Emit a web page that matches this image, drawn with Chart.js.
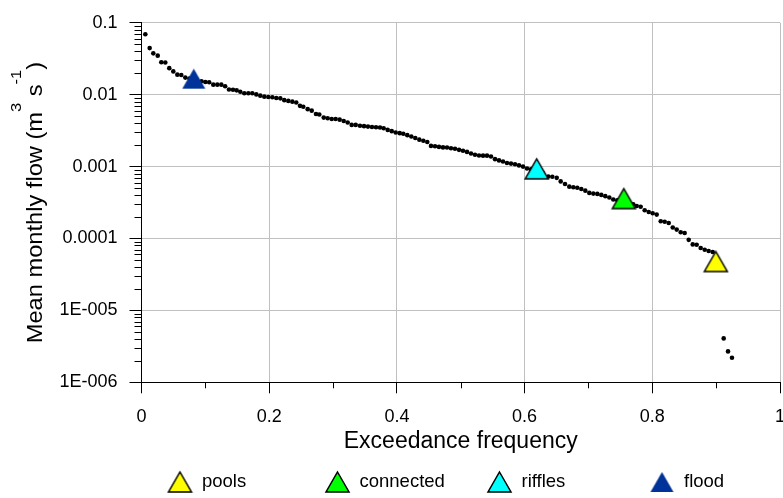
<!DOCTYPE html>
<html>
<head>
<meta charset="utf-8">
<script src="https://cdn.jsdelivr.net/npm/chart.js@4/dist/chart.umd.min.js"></script>
<style>
  body { margin: 0; background: #fff; }
  #chart { display: block; }
</style>
</head>
<body>
<canvas id="chart" width="783" height="498"></canvas>
<script>
// flow duration curve - monthly flows
const exceedance = [
  0.006, 0.0128, 0.0185, 0.0254, 0.031, 0.0373, 0.0435, 0.0498, 0.0561, 0.0623,
  0.0686, 0.075, 0.081, 0.087, 0.094, 0.100, 0.106, 0.1124, 0.1187, 0.125,
  0.131, 0.137, 0.1433, 0.149, 0.1547, 0.161, 0.1673, 0.1735, 0.1798, 0.186,
  0.1923, 0.1986, 0.2049, 0.2111, 0.2174, 0.2236, 0.2299, 0.2362, 0.2424, 0.2482,
  0.2534, 0.2603, 0.2666, 0.2733, 0.2785, 0.2854, 0.2916, 0.2979, 0.3041, 0.3104,
  0.3167, 0.3229, 0.3292, 0.3355, 0.3422, 0.3485, 0.3547, 0.361, 0.3673, 0.3735,
  0.3793, 0.3856, 0.3919, 0.3981, 0.4044, 0.41, 0.4163, 0.4226, 0.4288, 0.4351,
  0.4414, 0.4476, 0.4534, 0.4597, 0.4659, 0.4722, 0.4785, 0.4847, 0.491, 0.4973,
  0.5035, 0.5098, 0.5161, 0.5223, 0.5286, 0.5349, 0.5411, 0.5474, 0.5537, 0.5599,
  0.5662, 0.5724, 0.5787, 0.585, 0.5912, 0.5975, 0.6038, 0.610, 0.6163, 0.6225,
  0.6288, 0.6371, 0.6434, 0.6503, 0.6565, 0.6633, 0.670, 0.6763, 0.6825, 0.6888,
  0.6951, 0.7013, 0.7076, 0.7139, 0.7201, 0.7264, 0.7327, 0.7389, 0.7452, 0.7515,
  0.7577, 0.764, 0.7702, 0.7756, 0.7818, 0.7881, 0.7944, 0.8006, 0.8069, 0.8132,
  0.8194, 0.8257, 0.832, 0.8382, 0.8445, 0.8507, 0.857, 0.8633, 0.8695, 0.8758,
  0.8821, 0.8883, 0.8946, 0.9118, 0.9186, 0.9248
];
const flow = [
  0.0692, 0.0445, 0.0376, 0.0349, 0.0283, 0.028, 0.0234, 0.0211, 0.019, 0.0188,
  0.0173, 0.0168, 0.0163, 0.0158, 0.0154, 0.0150, 0.0149, 0.0138, 0.0138, 0.0138,
  0.0131, 0.0118, 0.0117, 0.0115, 0.0110, 0.0105, 0.0105, 0.0105, 0.0101, 0.0097,
  0.0094, 0.0093, 0.0092, 0.0090, 0.0089, 0.0084, 0.0082, 0.0080, 0.0078, 0.0070,
  0.0068, 0.0063, 0.0060, 0.0054, 0.0053, 0.0048, 0.0047, 0.0046, 0.0046, 0.0045,
  0.0043, 0.0041, 0.0038, 0.0038, 0.0037, 0.00365, 0.0036, 0.00356, 0.00353, 0.00349,
  0.00342, 0.00324, 0.00311, 0.00298, 0.00292, 0.00286, 0.00274, 0.00262, 0.0025, 0.00237,
  0.00229, 0.0022, 0.00194, 0.00192, 0.00188, 0.00185, 0.00184, 0.0018, 0.00177, 0.00171,
  0.00166, 0.0016, 0.00152, 0.00146, 0.00143, 0.00142, 0.00142, 0.00138, 0.00127, 0.00122,
  0.00118, 0.00112, 0.0011, 0.00108, 0.00104, 0.001, 0.00094, 0.00092, 0.00089, 0.00086,
  0.00081, 0.00073, 0.000721, 0.000698, 0.000623, 0.000573, 0.000526, 0.000515, 0.000509, 0.000489,
  0.000463, 0.000431, 0.000421, 0.000417, 0.000404, 0.000388, 0.000371, 0.000349, 0.00034, 0.00033,
  0.00032, 0.00031, 0.0003, 0.000283, 0.000277, 0.000247, 0.000234, 0.000224, 0.000215, 0.000174,
  0.000171, 0.000164, 0.000142, 0.000133, 0.000122, 0.000119, 0.0000957, 0.0000828, 0.0000817, 0.0000737,
  0.0000698, 0.000067, 0.0000649, 0.00000408, 0.00000269, 0.0000022
];

// habitat classes (triangles)
const classNames = ['pools', 'connected', 'riffles', 'flood'];
const classExceedance = [0.8995, 0.7554, 0.619, 0.0819];
const classFlow = [0.0000478, 0.000359, 0.00093, 0.0167];
const classColors = ['#ffff00', '#00ff00', '#00ffff', '#003399'];
const classOutline = ['#000', '#000', '#000', null];

// axis ticks
const xTickLabels = ['0', '0.2', '0.4', '0.6', '0.8', '1'];
const yTickValues = [1e-6, 1e-5, 1e-4, 1e-3, 1e-2, 1e-1];
const yTickLabels = ['1E-006', '1E-005', '0.0001', '0.001', '0.01', '0.1'];

Chart.defaults.font.family = '"Liberation Sans", Arial, sans-serif';
Chart.defaults.color = '#000';

function makeTriangle(fill, stroke) {
    const w = 23, h = 20;
    const c = document.createElement('canvas');
    c.width = w + 4;
    c.height = h + 4;
    const g = c.getContext('2d');
    g.beginPath();
    g.moveTo(c.width / 2, 2);
    g.lineTo(w + 2, h + 2);
    g.lineTo(2, h + 2);
    g.closePath();
    g.fillStyle = fill;
    g.fill();
    if (stroke) {
        g.lineWidth = 1.5;
        g.strokeStyle = stroke;
        g.stroke();
    }
    return c;
}

const triangles = classColors.map((c, i) => makeTriangle(c, classOutline[i]));

const classDatasets = classNames.map((name, i) => ({
    label: name,
    data: [{x: classExceedance[i], y: classFlow[i]}],
    pointStyle: triangles[i],
    pointRadius: 12,
}));

const dotDataset = {
    label: 'monthly flow',
    data: exceedance.map((x, i) => ({x: x, y: flow[i]})),
    pointStyle: 'circle',
    pointRadius: 2.3,
    pointBorderWidth: 0,
    backgroundColor: '#000',
    borderColor: '#000',
};

// short minor tick marks outside the axes
const minorTicks = {
    id: 'minorTicks',
    afterDraw(chart) {
        const {ctx, scales: {x, y}, chartArea} = chart;
        ctx.save();
        ctx.strokeStyle = '#000';
        ctx.lineWidth = 1;
        ctx.beginPath();
        [0.1, 0.3, 0.5, 0.7, 0.9].forEach(v => {
            const px = Math.round(x.getPixelForValue(v)) + 0.5;
            ctx.moveTo(px, chartArea.bottom);
            ctx.lineTo(px, chartArea.bottom + 6);
        });
        for (let d = 1e-6; d < 0.09; d *= 10) {
            for (let m = 2; m <= 9; m++) {
                const py = Math.round(y.getPixelForValue(m * d)) + 0.5;
                ctx.moveTo(chartArea.left - 7, py);
                ctx.lineTo(chartArea.left, py);
            }
        }
        ctx.stroke();
        ctx.restore();
    }
};

// y title with real superscripts (slightly wide, like the original)
const yTitleParts = [['Mean monthly flow (m', false], ['3', true], [' s', false], ['-1', true], [')', false]];
const yTitle = {
    id: 'yTitle',
    afterDraw(chart) {
        const {ctx, chartArea} = chart;
        const size = 21.5, supSize = 15;
        const fam = Chart.defaults.font.family;
        ctx.save();
        ctx.translate(42, (chartArea.top + chartArea.bottom) / 2);
        ctx.rotate(-Math.PI / 2);
        ctx.scale(1.1, 1);
        ctx.fillStyle = '#000';
        ctx.textBaseline = 'alphabetic';
        ctx.textAlign = 'left';
        let total = 0;
        yTitleParts.forEach(([t, sup]) => {
            ctx.font = (sup ? supSize : size) + 'px ' + fam;
            total += ctx.measureText(t).width;
        });
        let pos = -total / 2;
        yTitleParts.forEach(([t, sup]) => {
            ctx.font = (sup ? supSize : size) + 'px ' + fam;
            ctx.fillText(t, pos, sup ? -21.5 : 0);
            pos += ctx.measureText(t).width;
        });
        ctx.restore();
    }
};

// legend row along the bottom
const legendX = [180, 337.5, 499.5, 662];
const bottomLegend = {
    id: 'bottomLegend',
    afterDraw(chart) {
        const {ctx} = chart;
        ctx.save();
        ctx.font = '18.5px ' + Chart.defaults.font.family;
        ctx.fillStyle = '#000';
        ctx.textBaseline = 'middle';
        classNames.forEach((name, i) => {
            const t = triangles[i];
            ctx.drawImage(t, legendX[i] - t.width / 2, 482 - t.height / 2);
            ctx.fillText(name, legendX[i] + 22, 482);
        });
        ctx.restore();
    }
};

const ctx = document.querySelector('#chart').getContext('2d');
const chart = new Chart(ctx, {
    type: 'scatter',
    data: {
        datasets: [...classDatasets, dotDataset]
    },
    options: {
        responsive: false,
        animation: false,
        layout: {
            autoPadding: false,
            padding: {top: 17.3, right: 3, bottom: 0, left: 0}
        },
        plugins: {
            legend: {display: false},
            tooltip: {enabled: false},
        },
        scales: {
            x: {
                type: 'linear',
                min: 0,
                max: 1,
                ticks: {
                    stepSize: 0.2,
                    autoSkip: false,
                    maxRotation: 0,
                    padding: 13,
                    font: {size: 18},
                    callback: (v, i) => xTickLabels[i],
                },
                grid: {color: '#c0c0c0', tickColor: '#000', tickLength: 11},
                border: {color: '#000', width: 1},
                title: {
                    display: true,
                    text: 'Exceedance frequency',
                    font: {size: 23},
                    padding: {top: 0, bottom: 43},
                },
                afterFit: (s) => {
                    s.height = 115.7;
                    s.paddingRight = 3;
                },
            },
            y: {
                type: 'logarithmic',
                min: 1e-6,
                max: 0.1,
                afterBuildTicks: (s) => {
                    s.ticks = yTickValues.map(v => ({value: v, major: true}));
                },
                ticks: {
                    autoSkip: false,
                    padding: 12,
                    font: {size: 18},
                    callback: (v, i) => yTickLabels[i],
                },
                grid: {color: '#c0c0c0', tickColor: '#000', tickLength: 12},
                border: {color: '#000', width: 1},
                afterFit: (s) => {
                    s.width = 141.5;
                },
            }
        }
    },
    plugins: [minorTicks, yTitle, bottomLegend]
});
</script>
</body>
</html>
